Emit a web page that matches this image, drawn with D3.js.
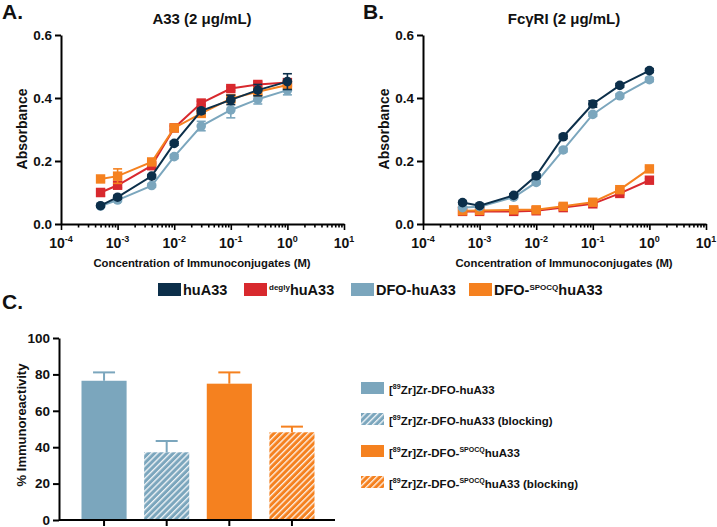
<!DOCTYPE html>
<html><head><meta charset="utf-8">
<script src="https://cdn.jsdelivr.net/npm/d3@7"></script>
<style>
body{margin:0;background:#fff}
svg{display:block}
text{font-family:"Liberation Sans",Arial,sans-serif;fill:#111}
</style></head>
<body><svg id="chart" width="717" height="527"></svg>
<script>
// ---------- DATA ----------
const concentrations = [5e-4, 1e-3, 4e-3, 1e-2, 3e-2, 1e-1, 3e-1, 1];
const seriesNames = ["huA33", "deglyhuA33", "DFO-huA33", "DFO-SPOCQhuA33"];

// Panel A: A33 (2 µg/mL)
const aHuA33   = [0.058, 0.085, 0.152, 0.256, 0.359, 0.394, 0.425, 0.452];
const aHuA33E  = [0.004, 0.006, 0.005, 0.006, 0.008, 0.015, 0.018, 0.025];
const aDegly   = [0.100, 0.123, 0.185, 0.305, 0.384, 0.430, 0.443, 0.449];
const aDeglyE  = [0.012, 0.008, 0.008, 0.006, 0.006, 0.006, 0.008, 0.006];
const aDFO     = [0.057, 0.076, 0.122, 0.214, 0.311, 0.362, 0.396, 0.425];
const aDFOE    = [0.004, 0.005, 0.005, 0.006, 0.015, 0.025, 0.015, 0.015];
const aSPOCQ   = [0.143, 0.152, 0.197, 0.305, 0.351, 0.398, 0.420, 0.441];
const aSPOCQE  = [0.008, 0.023, 0.008, 0.006, 0.008, 0.012, 0.010, 0.010];

// Panel B: FcγRI (2 µg/mL)
const bHuA33   = [0.068, 0.058, 0.091, 0.153, 0.277, 0.381, 0.440, 0.487];
const bHuA33E  = [0.004, 0.004, 0.005, 0.006, 0.006, 0.010, 0.006, 0.006];
const bDegly   = [0.040, 0.040, 0.040, 0.042, 0.052, 0.064, 0.097, 0.139];
const bDeglyE  = [0.003, 0.003, 0.003, 0.003, 0.003, 0.004, 0.005, 0.005];
const bDFO     = [0.052, 0.055, 0.085, 0.132, 0.235, 0.348, 0.407, 0.458];
const bDFOE    = [0.003, 0.003, 0.004, 0.005, 0.006, 0.006, 0.006, 0.006];
const bSPOCQ   = [0.042, 0.043, 0.045, 0.045, 0.056, 0.069, 0.109, 0.175];
const bSPOCQE  = [0.003, 0.003, 0.003, 0.003, 0.003, 0.004, 0.005, 0.006];

const absTicks = [0, 0.2, 0.4, 0.6];
const xMajorExps = [-4, -3, -2, -1, 0, 1];

// Panel C: immunoreactivity
const barLabels = ["[89Zr]Zr-DFO-huA33", "[89Zr]Zr-DFO-huA33 (blocking)",
                   "[89Zr]Zr-DFO-SPOCQhuA33", "[89Zr]Zr-DFO-SPOCQhuA33 (blocking)"];
const barValues = [76.5, 37.2, 74.9, 48.2];
const barErrors = [4.6, 6.2, 6.2, 3.1];
const irTicks = [0, 20, 40, 60, 80, 100];

// ---------- STYLE ----------
const NAVY = "#0c2f4a", RED = "#d8292e", LBLUE = "#7ba6bd", ORANGE = "#f5811f";
const svg = d3.select("#chart");

const defs = svg.append("defs");
function hatch(id, color) {
  const p = defs.append("pattern").attr("id", id).attr("patternUnits", "userSpaceOnUse")
    .attr("width", 4.4).attr("height", 10).attr("patternTransform", "rotate(45)");
  p.append("rect").attr("width", 4.4).attr("height", 10).attr("fill", color);
  p.append("line").attr("x1", 0.7).attr("x2", 0.7).attr("y1", 0).attr("y2", 10)
    .attr("stroke", "#fff").attr("stroke-width", 1.2);
}
hatch("hBlue", LBLUE);
hatch("hOrange", ORANGE);

function panelLabel(x, y, t) {
  svg.append("text").attr("x", x).attr("y", y).attr("font-size", 21)
    .attr("font-weight", "bold").text(t);
}

// ---------- LOG PANELS ----------
function logPanel(ox, title, series) {
  const g = svg.append("g");
  const x = d3.scaleLog().domain([1e-4, 10]).range([ox, ox + 283]);
  const y = d3.scaleLinear().domain([0, 0.6]).range([224, 35]);

  const ya = g.append("g").attr("transform", `translate(${ox},0)`)
    .call(d3.axisLeft(y).tickValues(absTicks).tickFormat(d3.format(".1f")).tickSize(6).tickSizeOuter(0));
  ya.select(".domain").attr("stroke", "#000").attr("stroke-width", 2);
  ya.selectAll(".tick line").attr("stroke", "#000").attr("stroke-width", 2);
  ya.selectAll(".tick text").attr("font-size", 13.5).attr("font-weight", "bold")
    .attr("font-family", "Liberation Sans, Arial, sans-serif").attr("fill", "#111");

  const allTicks = [];
  xMajorExps.forEach(e => {
    if (e < 1) for (let k = 1; k <= 9; k++) allTicks.push(k * Math.pow(10, e));
    else allTicks.push(Math.pow(10, e));
  });
  const isMajor = v => Math.abs(Math.log10(v) - Math.round(Math.log10(v))) < 1e-9;
  const xa = g.append("g").attr("transform", `translate(0,224)`)
    .call(d3.axisBottom(x).tickValues(allTicks).tickFormat("").tickSize(6).tickSizeOuter(0));
  xa.select(".domain").attr("stroke", "#000").attr("stroke-width", 2);
  xa.selectAll(".tick line").attr("stroke", "#000").attr("stroke-width", 1.6)
    .attr("y2", d => isMajor(d) ? 6 : 3.5);
  xa.selectAll(".tick text").remove();
  xMajorExps.forEach(e => {
    const t = g.append("text").attr("x", x(Math.pow(10, e))).attr("y", 248)
      .attr("text-anchor", "middle").attr("font-weight", "bold");
    t.append("tspan").attr("font-size", 14).text("10");
    t.append("tspan").attr("font-size", 9).attr("dy", -6).text(e < 0 ? "-" + (-e) : String(e));
  });

  g.append("text").attr("x", ox + 141).attr("y", 267).attr("text-anchor", "middle")
    .attr("font-size", 11.3).attr("font-weight", "bold").text("Concentration of Immunoconjugates (M)");
  g.append("text").attr("transform", `translate(${ox - 34},${129}) rotate(-90)`).attr("text-anchor", "middle")
    .attr("font-size", 14).attr("font-weight", "bold").text("Absorbance");
  g.append("text").attr("x", ox + 141).attr("y", 24).attr("text-anchor", "middle")
    .attr("font-size", 15).attr("font-weight", "bold").text(title);

  const line = d3.line().x(d => x(d.c)).y(d => y(d.v));
  series.forEach(s => {
    const pts = concentrations.map((c, i) => ({c, v: s.v[i], e: s.e[i]}));
    const sg = g.append("g");
    sg.append("path").datum(pts).attr("d", line).attr("fill", "none")
      .attr("stroke", s.color).attr("stroke-width", 2);
    pts.forEach(p => {
      sg.append("line").attr("x1", x(p.c)).attr("x2", x(p.c)).attr("y1", y(p.v - p.e)).attr("y2", y(p.v + p.e))
        .attr("stroke", s.color).attr("stroke-width", 1.6);
      [p.v - p.e, p.v + p.e].forEach(vv => sg.append("line")
        .attr("x1", x(p.c) - 4.5).attr("x2", x(p.c) + 4.5).attr("y1", y(vv)).attr("y2", y(vv))
        .attr("stroke", s.color).attr("stroke-width", 1.6));
      if (s.shape === "circle")
        sg.append("circle").attr("cx", x(p.c)).attr("cy", y(p.v)).attr("r", 4.8).attr("fill", s.color);
      else
        sg.append("rect").attr("x", x(p.c) - 4.7).attr("y", y(p.v) - 4.7).attr("width", 9.4).attr("height", 9.4).attr("fill", s.color);
    });
  });
}

logPanel(61, "A33 (2 μg/mL)", [
  {v: aDFO, e: aDFOE, color: LBLUE, shape: "circle"},
  {v: aDegly, e: aDeglyE, color: RED, shape: "square"},
  {v: aSPOCQ, e: aSPOCQE, color: ORANGE, shape: "square"},
  {v: aHuA33, e: aHuA33E, color: NAVY, shape: "circle"}
]);
logPanel(423, "FcγRI (2 μg/mL)", [
  {v: bDegly, e: bDeglyE, color: RED, shape: "square"},
  {v: bSPOCQ, e: bSPOCQE, color: ORANGE, shape: "square"},
  {v: bDFO, e: bDFOE, color: LBLUE, shape: "circle"},
  {v: bHuA33, e: bHuA33E, color: NAVY, shape: "circle"}
]);
panelLabel(2, 19, "A.");
panelLabel(363, 19, "B.");
panelLabel(2, 309, "C.");

// ---------- MIDDLE LEGEND ----------
const legendColors = [NAVY, RED, LBLUE, ORANGE];
const legendX = [158, 244, 351, 469];
seriesNames.forEach((n, i) => {
  svg.append("rect").attr("x", legendX[i]).attr("y", 283).attr("width", 23).attr("height", 13)
    .attr("fill", legendColors[i]);
  const t = svg.append("text").attr("x", legendX[i] + 25).attr("y", 295)
    .attr("font-size", 14.5).attr("font-weight", "bold");
  if (n === "deglyhuA33") {
    t.append("tspan").attr("font-size", 8).attr("dy", -5).text("degly");
    t.append("tspan").attr("dy", 5).text("huA33");
  } else if (n === "DFO-SPOCQhuA33") {
    t.append("tspan").text("DFO-");
    t.append("tspan").attr("font-size", 8).attr("dy", -5).text("SPOCQ");
    t.append("tspan").attr("dy", 5).text("huA33");
  } else t.text(n);
});

// ---------- PANEL C ----------
const gc = svg.append("g");
const yc = d3.scaleLinear().domain([0, 100]).range([520, 338]);
const xc = d3.scaleBand().domain(barLabels).range([81.5, 314.5]).paddingInner(0.28).paddingOuter(0);
const fills = [LBLUE, "url(#hBlue)", ORANGE, "url(#hOrange)"];
const solid = [LBLUE, LBLUE, ORANGE, ORANGE];

barLabels.forEach((b, i) => {
  const cx = xc(b) + xc.bandwidth() / 2;
  gc.append("line").attr("x1", cx).attr("x2", cx).attr("y1", yc(barValues[i])).attr("y2", yc(barValues[i] + barErrors[i]))
    .attr("stroke", solid[i]).attr("stroke-width", 2);
  gc.append("line").attr("x1", cx - 11).attr("x2", cx + 11)
    .attr("y1", yc(barValues[i] + barErrors[i])).attr("y2", yc(barValues[i] + barErrors[i]))
    .attr("stroke", solid[i]).attr("stroke-width", 2);
  gc.append("rect").attr("x", xc(b)).attr("y", yc(barValues[i])).attr("width", xc.bandwidth())
    .attr("height", yc(0) - yc(barValues[i])).attr("fill", fills[i]);
});

const yca = gc.append("g").attr("transform", "translate(59,0)")
  .call(d3.axisLeft(yc).tickValues(irTicks).tickSize(6).tickSizeOuter(0));
yca.select(".domain").attr("stroke", "#000").attr("stroke-width", 2);
yca.selectAll(".tick line").attr("stroke", "#000").attr("stroke-width", 2);
yca.selectAll(".tick text").attr("font-size", 13.5).attr("font-weight", "bold")
  .attr("font-family", "Liberation Sans, Arial, sans-serif").attr("fill", "#111");

const xca = gc.append("g").attr("transform", "translate(0,520)")
  .call(d3.axisBottom(xc).tickFormat("").tickSize(6).tickSizeOuter(0));
xca.select(".domain").attr("stroke", "#000").attr("stroke-width", 2).attr("d", "M59,0H335");
xca.selectAll(".tick line").attr("stroke", "#000").attr("stroke-width", 2);

gc.append("text").attr("transform", "translate(26,425) rotate(-90)").attr("text-anchor", "middle")
  .attr("font-size", 13).attr("font-weight", "bold").attr("fill", "#222").text("% Immunoreactivity");

// legend C
const legY = [382, 413, 445, 476];
barLabels.forEach((b, i) => {
  gc.append("rect").attr("x", 361).attr("y", legY[i]).attr("width", 23).attr("height", 12).attr("fill", fills[i]);
  const t = gc.append("text").attr("x", 389).attr("y", legY[i] + 11.5).attr("font-size", 11.5).attr("font-weight", "bold");
  t.append("tspan").text("[");
  t.append("tspan").attr("font-size", 7).attr("dy", -4.5).text("89");
  t.append("tspan").attr("dy", 4.5).text("Zr]Zr-DFO-");
  let rest = b.replace("[89Zr]Zr-DFO-", "");
  if (rest.startsWith("SPOCQ")) {
    t.append("tspan").attr("font-size", 7).attr("dy", -4.5).text("SPOCQ");
    t.append("tspan").attr("dy", 4.5).text(rest.slice(5));
  } else t.append("tspan").text(rest);
});
</script></body></html>
